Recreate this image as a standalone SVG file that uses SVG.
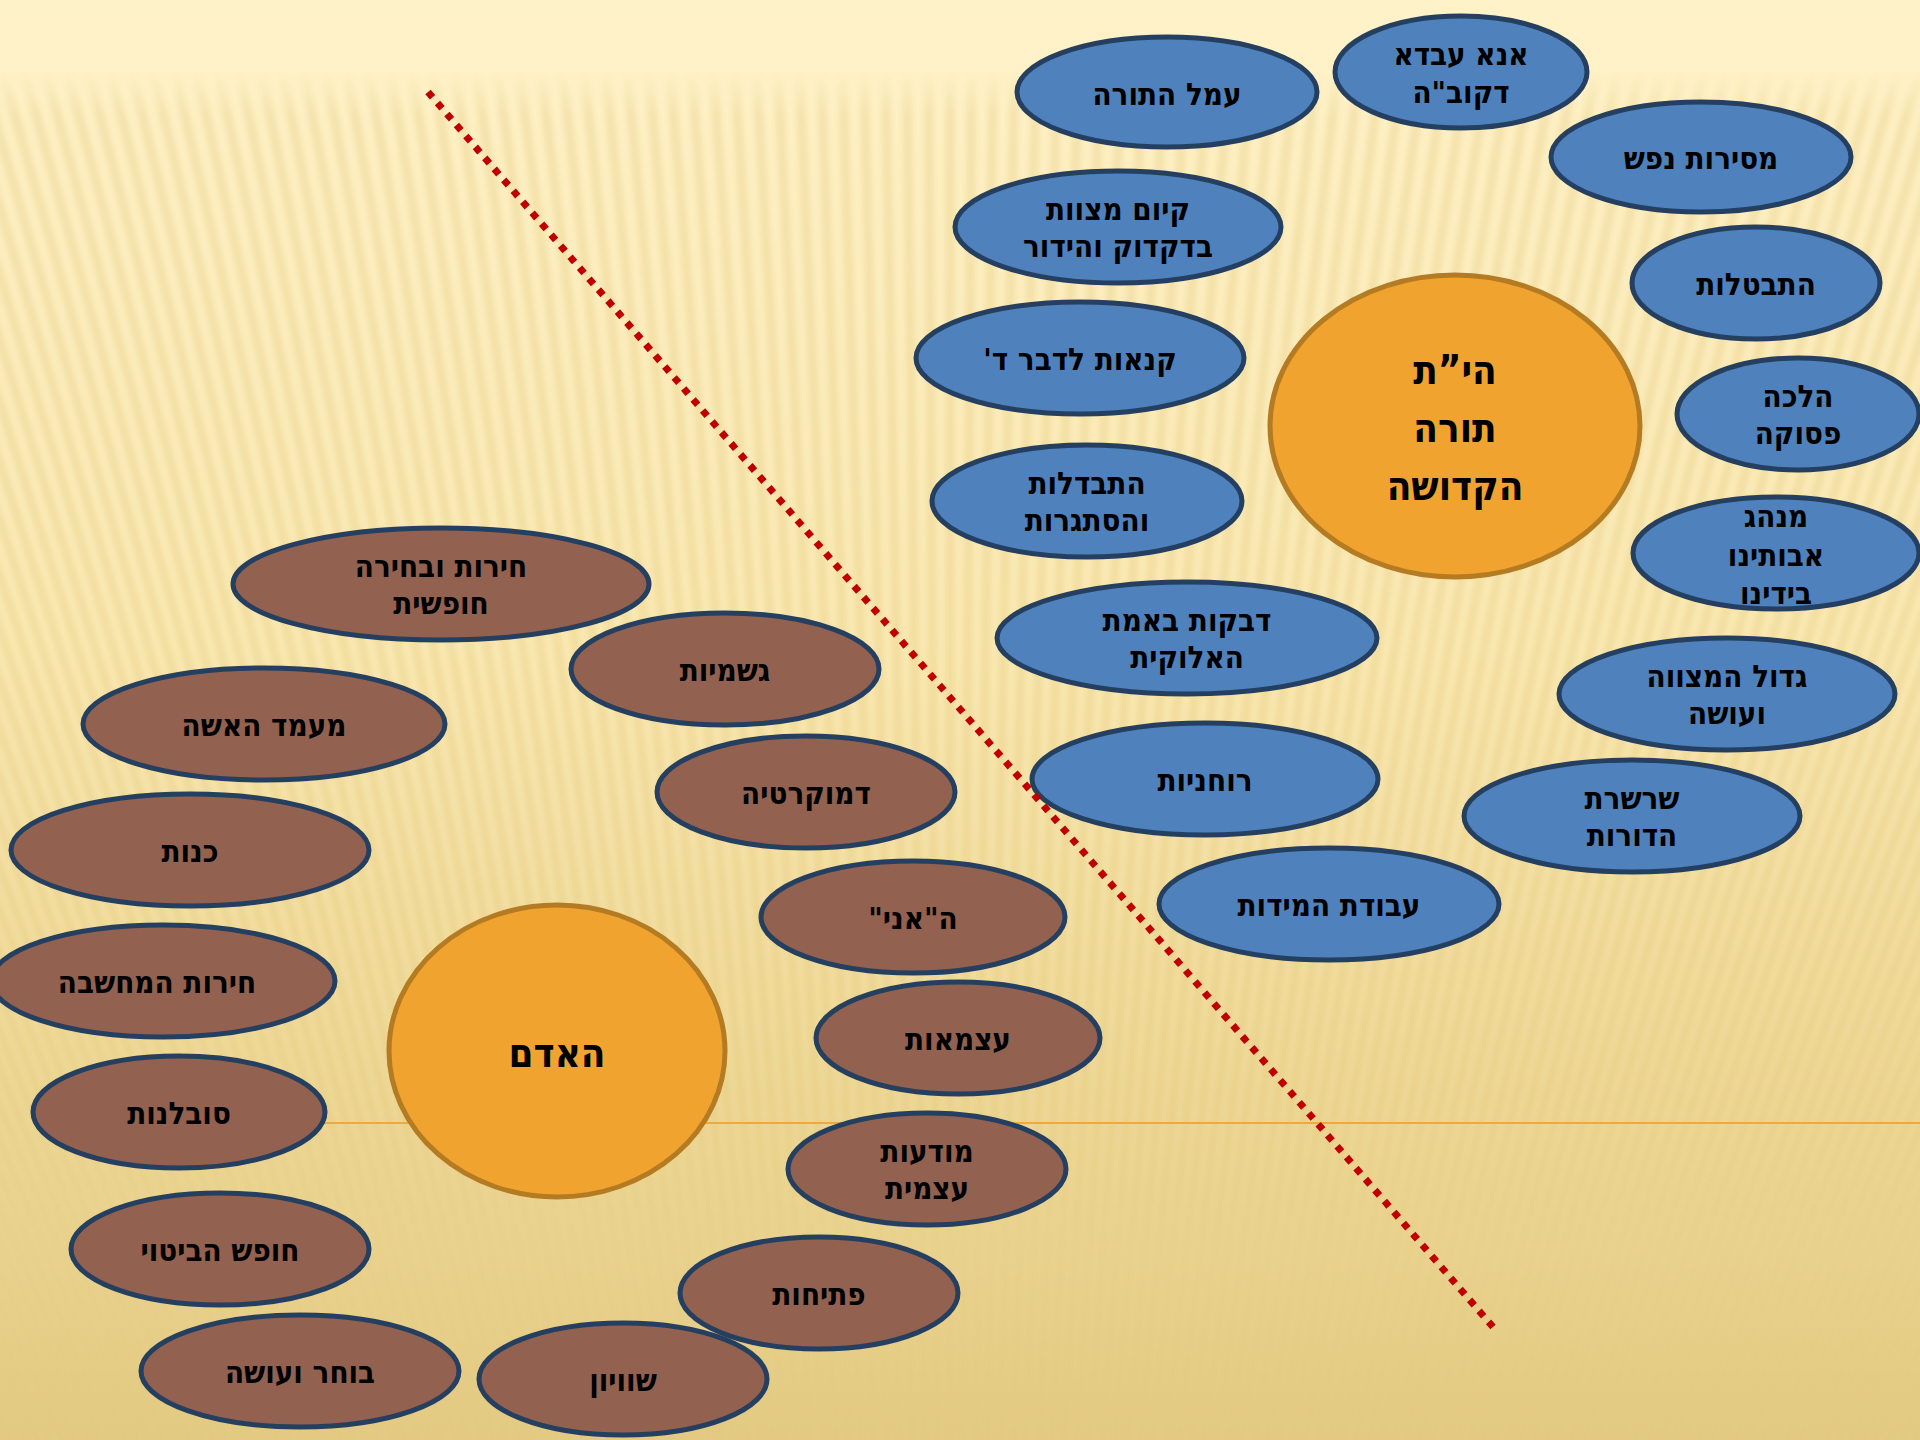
<svg xmlns="http://www.w3.org/2000/svg" width="1920" height="1440" viewBox="0 0 1920 1440">
<defs>
<linearGradient id="bg" x1="0" y1="0" x2="0" y2="1440" gradientUnits="userSpaceOnUse">
<stop offset="0" stop-color="#FEF2C9"/>
<stop offset="0.06" stop-color="#FEF1C6"/>
<stop offset="0.45" stop-color="#FBEAB5"/>
<stop offset="0.78" stop-color="#EFDA9A"/>
<stop offset="1" stop-color="#E4CB84"/>
</linearGradient>
<linearGradient id="mg" x1="0" y1="0" x2="0" y2="1440" gradientUnits="userSpaceOnUse">
<stop offset="0.05" stop-color="#fff" stop-opacity="0"/>
<stop offset="0.08" stop-color="#fff" stop-opacity="1"/>
<stop offset="0.77" stop-color="#fff" stop-opacity="1"/>
<stop offset="0.88" stop-color="#fff" stop-opacity="0.4"/>
<stop offset="1" stop-color="#fff" stop-opacity="0.3"/>
</linearGradient>
<mask id="sm" maskUnits="userSpaceOnUse" x="0" y="0" width="1920" height="1440">
<rect width="1920" height="1440" fill="url(#mg)"/>
</mask>
<filter id="blur" x="-5%" y="-5%" width="110%" height="110%">
<feGaussianBlur stdDeviation="3"/>
</filter>
</defs>
<style>
.b{fill:#4F81BD;stroke:#243F60;stroke-width:5}
.r{fill:#93614F;stroke:#243F60;stroke-width:5}
.o{fill:#F0A32F;stroke:#B47B23;stroke-width:5}
text{font-family:"DejaVu Sans Condensed","DejaVu Sans",sans-serif;font-stretch:condensed;font-weight:bold;font-size:31px;fill:#000;text-anchor:middle;direction:rtl}
text.big{font-size:40px}
</style>

<g id="background">
<rect width="1920" height="1440" fill="url(#bg)"/>
<g mask="url(#sm)">
<path filter="url(#blur)" fill="none" stroke="#D8B65A" stroke-opacity="0.26" stroke-width="9" d="M950 3400L-700 0M950 3400L-678 0M950 3400L-656 0M950 3400L-634 0M950 3400L-612 0M950 3400L-590 0M950 3400L-568 0M950 3400L-546 0M950 3400L-524 0M950 3400L-502 0M950 3400L-480 0M950 3400L-458 0M950 3400L-436 0M950 3400L-414 0M950 3400L-392 0M950 3400L-370 0M950 3400L-348 0M950 3400L-326 0M950 3400L-304 0M950 3400L-282 0M950 3400L-260 0M950 3400L-238 0M950 3400L-216 0M950 3400L-194 0M950 3400L-172 0M950 3400L-150 0M950 3400L-128 0M950 3400L-106 0M950 3400L-84 0M950 3400L-62 0M950 3400L-40 0M950 3400L-18 0M950 3400L4 0M950 3400L26 0M950 3400L48 0M950 3400L70 0M950 3400L92 0M950 3400L114 0M950 3400L136 0M950 3400L158 0M950 3400L180 0M950 3400L202 0M950 3400L224 0M950 3400L246 0M950 3400L268 0M950 3400L290 0M950 3400L312 0M950 3400L334 0M950 3400L356 0M950 3400L378 0M950 3400L400 0M950 3400L422 0M950 3400L444 0M950 3400L466 0M950 3400L488 0M950 3400L510 0M950 3400L532 0M950 3400L554 0M950 3400L576 0M950 3400L598 0M950 3400L620 0M950 3400L642 0M950 3400L664 0M950 3400L686 0M950 3400L708 0M950 3400L730 0M950 3400L752 0M950 3400L774 0M950 3400L796 0M950 3400L818 0M950 3400L840 0M950 3400L862 0M950 3400L884 0M950 3400L906 0M950 3400L928 0M950 3400L950 0M950 3400L972 0M950 3400L994 0M950 3400L1016 0M950 3400L1038 0M950 3400L1060 0M950 3400L1082 0M950 3400L1104 0M950 3400L1126 0M950 3400L1148 0M950 3400L1170 0M950 3400L1192 0M950 3400L1214 0M950 3400L1236 0M950 3400L1258 0M950 3400L1280 0M950 3400L1302 0M950 3400L1324 0M950 3400L1346 0M950 3400L1368 0M950 3400L1390 0M950 3400L1412 0M950 3400L1434 0M950 3400L1456 0M950 3400L1478 0M950 3400L1500 0M950 3400L1522 0M950 3400L1544 0M950 3400L1566 0M950 3400L1588 0M950 3400L1610 0M950 3400L1632 0M950 3400L1654 0M950 3400L1676 0M950 3400L1698 0M950 3400L1720 0M950 3400L1742 0M950 3400L1764 0M950 3400L1786 0M950 3400L1808 0M950 3400L1830 0M950 3400L1852 0M950 3400L1874 0M950 3400L1896 0M950 3400L1918 0M950 3400L1940 0M950 3400L1962 0M950 3400L1984 0M950 3400L2006 0M950 3400L2028 0M950 3400L2050 0M950 3400L2072 0M950 3400L2094 0M950 3400L2116 0M950 3400L2138 0M950 3400L2160 0M950 3400L2182 0M950 3400L2204 0M950 3400L2226 0M950 3400L2248 0M950 3400L2270 0M950 3400L2292 0M950 3400L2314 0M950 3400L2336 0M950 3400L2358 0M950 3400L2380 0M950 3400L2402 0M950 3400L2424 0M950 3400L2446 0M950 3400L2468 0M950 3400L2490 0M950 3400L2512 0M950 3400L2534 0M950 3400L2556 0M950 3400L2578 0M950 3400L2600 0M950 3400L2622 0M950 3400L2644 0"/>
</g>
<line x1="300" y1="1123" x2="1920" y2="1123" stroke="#F0A840" stroke-width="2"/>
</g>

<g id="n-amal"><ellipse class="b" cx="1167" cy="92" rx="150" ry="55"/><text x="1167" y="105">עמל התורה</text></g>
<g id="n-ana"><ellipse class="b" cx="1461" cy="72" rx="126" ry="56"/><text x="1461" y="65">אנא עבדא</text><text x="1461" y="103">דקוב"ה</text></g>
<g id="n-mesirut"><ellipse class="b" cx="1701" cy="157" rx="150" ry="55"/><text x="1701" y="169">מסירות נפש</text></g>
<g id="n-kiyum"><ellipse class="b" cx="1118" cy="227" rx="163" ry="56"/><text x="1118" y="220">קיום מצוות</text><text x="1118" y="257">בדקדוק והידור</text></g>
<g id="n-hitbatlut"><ellipse class="b" cx="1756" cy="283" rx="124" ry="56"/><text x="1756" y="295">התבטלות</text></g>
<g id="n-kanaut"><ellipse class="b" cx="1080" cy="358" rx="164" ry="56"/><text x="1080" y="370">קנאות לדבר ד'</text></g>
<g id="n-halacha"><ellipse class="b" cx="1798" cy="414" rx="121" ry="56"/><text x="1798" y="407">הלכה</text><text x="1798" y="444">פסוקה</text></g>
<g id="n-hitbadlut"><ellipse class="b" cx="1087" cy="501" rx="155" ry="56"/><text x="1087" y="494">התבדלות</text><text x="1087" y="531">והסתגרות</text></g>
<g id="n-minhag"><ellipse class="b" cx="1776" cy="553" rx="143" ry="56"/><text x="1776" y="527">מנהג</text><text x="1776" y="566">אבותינו</text><text x="1776" y="604">בידינו</text></g>
<g id="n-dvekut"><ellipse class="b" cx="1187" cy="638" rx="190" ry="56"/><text x="1187" y="631">דבקות באמת</text><text x="1187" y="668">האלוקית</text></g>
<g id="n-gadol"><ellipse class="b" cx="1727" cy="694" rx="168" ry="56"/><text x="1727" y="687">גדול המצווה</text><text x="1727" y="724">ועושה</text></g>
<g id="n-ruchniyut"><ellipse class="b" cx="1205" cy="779" rx="173" ry="56"/><text x="1205" y="791">רוחניות</text></g>
<g id="n-sharsheret"><ellipse class="b" cx="1632" cy="816" rx="168" ry="56"/><text x="1632" y="809">שרשרת</text><text x="1632" y="846">הדורות</text></g>
<g id="n-midot"><ellipse class="b" cx="1329" cy="904" rx="170" ry="56"/><text x="1329" y="916">עבודת המידות</text></g>

<g id="n-torah"><ellipse class="o" cx="1455" cy="426" rx="185" ry="151"/><text class="big" x="1455" y="384">הי”ת</text><text class="big" x="1455" y="442">תורה</text><text class="big" x="1455" y="500">הקדושה</text></g>
<g id="n-adam"><ellipse class="o" cx="557" cy="1051" rx="168" ry="146"/><text class="big" x="557" y="1067">האדם</text></g>

<g id="n-cherut"><ellipse class="r" cx="441" cy="584" rx="208" ry="56"/><text x="441" y="577">חירות ובחירה</text><text x="441" y="614">חופשית</text></g>
<g id="n-gashmiyut"><ellipse class="r" cx="725" cy="669" rx="154" ry="56"/><text x="725" y="681">גשמיות</text></g>
<g id="n-maamad"><ellipse class="r" cx="264" cy="724" rx="181" ry="56"/><text x="264" y="736">מעמד האשה</text></g>
<g id="n-democratia"><ellipse class="r" cx="806" cy="792" rx="149" ry="56"/><text x="806" y="804">דמוקרטיה</text></g>
<g id="n-kenut"><ellipse class="r" cx="190" cy="850" rx="179" ry="56"/><text x="190" y="862">כנות</text></g>
<g id="n-ani"><ellipse class="r" cx="913" cy="917" rx="152" ry="56"/><text x="913" y="929">ה"אני"</text></g>
<g id="n-machshava"><ellipse class="r" cx="163" cy="981" rx="172" ry="56"/><text x="157" y="993">חירות המחשבה</text></g>
<g id="n-atzmaut"><ellipse class="r" cx="958" cy="1038" rx="142" ry="56"/><text x="958" y="1050">עצמאות</text></g>
<g id="n-sovlanut"><ellipse class="r" cx="179" cy="1112" rx="146" ry="56"/><text x="179" y="1124">סובלנות</text></g>
<g id="n-mudaut"><ellipse class="r" cx="927" cy="1169" rx="139" ry="56"/><text x="927" y="1162">מודעות</text><text x="927" y="1199">עצמית</text></g>
<g id="n-chofesh"><ellipse class="r" cx="220" cy="1249" rx="149" ry="56"/><text x="220" y="1261">חופש הביטוי</text></g>
<g id="n-ptichut"><ellipse class="r" cx="819" cy="1293" rx="139" ry="56"/><text x="819" y="1305">פתיחות</text></g>
<g id="n-bocher"><ellipse class="r" cx="300" cy="1371" rx="159" ry="56"/><text x="300" y="1383">בוחר ועושה</text></g>
<g id="n-shivyon"><ellipse class="r" cx="623" cy="1379" rx="144" ry="56"/><text x="623" y="1391">שוויון</text></g>

<g id="connectors">
<line x1="428" y1="92" x2="1493" y2="1327" stroke="#C00000" stroke-width="7" stroke-dasharray="7 7.5"/>
</g>
</svg>
